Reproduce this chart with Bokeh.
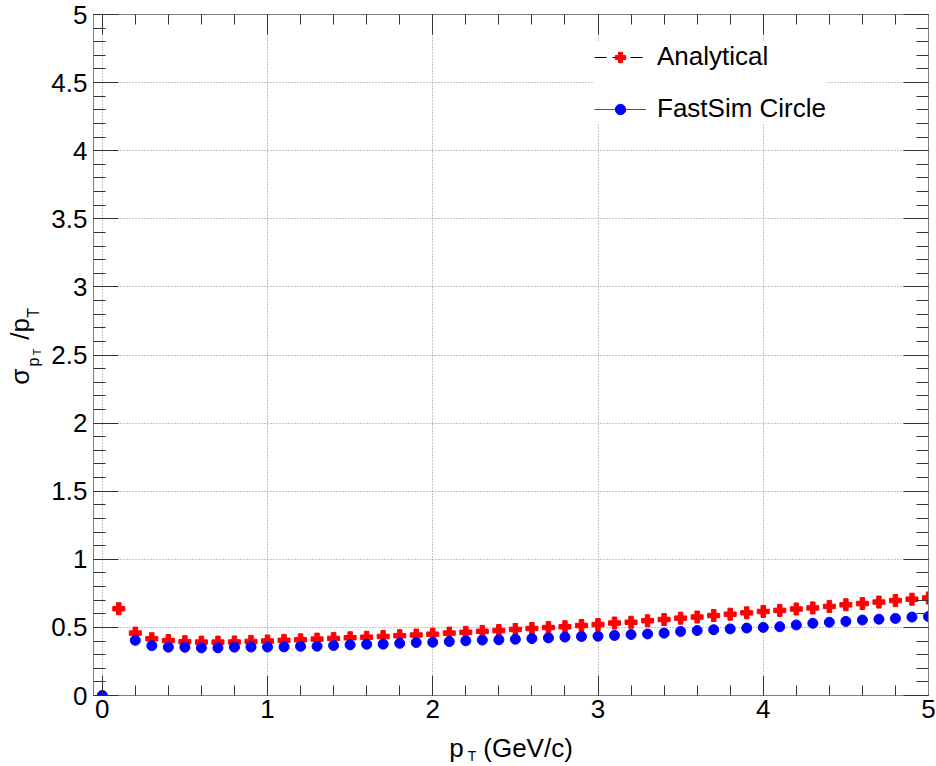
import numpy as np
from bokeh.plotting import figure
from bokeh.models import (Range1d, LinearAxis, SingleIntervalTicker, FixedTicker,
                          NumeralTickFormatter, Legend, LegendItem, Grid)
from bokeh.embed import file_html
from bokeh.resources import INLINE

FONT = "Liberation Sans"
NB = "\u00a0"  # non-collapsing space, used to place title pieces

# ---- data ----
pt_analytical = [0.1, 0.2, 0.3, 0.4, 0.5, 0.6, 0.7, 0.8, 0.9, 1.0,
                 1.1, 1.2, 1.3, 1.4, 1.5, 1.6, 1.7, 1.8, 1.9, 2.0,
                 2.1, 2.2, 2.3, 2.4, 2.5, 2.6, 2.7, 2.8, 2.9, 3.0,
                 3.1, 3.2, 3.3, 3.4, 3.5, 3.6, 3.7, 3.8, 3.9, 4.0,
                 4.1, 4.2, 4.3, 4.4, 4.5, 4.6, 4.7, 4.8, 4.9, 5.0]
sigma_analytical = [0.637, 0.458, 0.417, 0.403, 0.395, 0.392, 0.392, 0.393, 0.397, 0.400,
                    0.405, 0.409, 0.414, 0.419, 0.424, 0.428, 0.433, 0.439, 0.444, 0.450,
                    0.458, 0.464, 0.471, 0.477, 0.485, 0.492, 0.499, 0.505, 0.514, 0.521,
                    0.532, 0.538, 0.549, 0.558, 0.568, 0.576, 0.587, 0.597, 0.607, 0.617,
                    0.625, 0.635, 0.643, 0.654, 0.666, 0.675, 0.686, 0.697, 0.707, 0.716]

pt_fastsim = [0.0, 0.2, 0.3, 0.4, 0.5, 0.6, 0.7, 0.8, 0.9, 1.0,
              1.1, 1.2, 1.3, 1.4, 1.5, 1.6, 1.7, 1.8, 1.9, 2.0,
              2.1, 2.2, 2.3, 2.4, 2.5, 2.6, 2.7, 2.8, 2.9, 3.0,
              3.1, 3.2, 3.3, 3.4, 3.5, 3.6, 3.7, 3.8, 3.9, 4.0,
              4.1, 4.2, 4.3, 4.4, 4.5, 4.6, 4.7, 4.8, 4.9, 5.0]
sigma_fastsim = [0.000, 0.405, 0.366, 0.355, 0.354, 0.350, 0.350, 0.355, 0.356, 0.356,
                 0.357, 0.361, 0.362, 0.367, 0.372, 0.376, 0.377, 0.383, 0.389, 0.391,
                 0.396, 0.402, 0.407, 0.409, 0.413, 0.418, 0.423, 0.429, 0.433, 0.435,
                 0.441, 0.448, 0.452, 0.458, 0.470, 0.477, 0.483, 0.489, 0.495, 0.500,
                 0.505, 0.518, 0.530, 0.538, 0.544, 0.554, 0.560, 0.566, 0.576, 0.580]

series_labels = ["Analytical", "FastSim Circle"]

X_MIN, X_MAX = -0.053, 5.0
Y_MIN, Y_MAX = 0.0, 5.0

p = figure(width=936, height=766, output_backend="svg", toolbar_location=None,
           x_range=Range1d(X_MIN, X_MAX), y_range=Range1d(Y_MIN, Y_MAX),
           x_axis_type=None, y_axis_type=None,
           min_border_left=93, min_border_right=8, min_border_top=14, min_border_bottom=70)
p.background_fill_color = "white"
p.border_fill_color = "white"
p.outline_line_color = "#808080"


def x_ticker():
    return SingleIntervalTicker(interval=1, num_minor_ticks=5)


def y_ticker():
    return SingleIntervalTicker(interval=0.5, num_minor_ticks=5)


def make_axis(ticker, show_labels, tick_in, minor_in, standoff):
    ax = LinearAxis(ticker=ticker, formatter=NumeralTickFormatter(format="0.[0]"))
    ax.major_tick_in = tick_in
    ax.major_tick_out = 0
    ax.minor_tick_in = minor_in
    ax.minor_tick_out = 0
    ax.axis_line_color = "#808080"
    ax.major_tick_line_color = "#333333"
    ax.minor_tick_line_color = "#333333"
    if show_labels:
        ax.major_label_text_font = FONT
        ax.major_label_text_font_size = "26px"
        ax.major_label_text_color = "black"
        ax.major_label_standoff = standoff
    else:
        ax.major_label_text_font_size = "0px"
        ax.major_label_text_alpha = 0
        ax.major_label_standoff = 0
    return ax


def set_title(ax, text, size, standoff):
    ax.axis_label = text
    ax.axis_label_text_font = FONT
    ax.axis_label_text_font_size = size
    ax.axis_label_text_font_style = "normal"
    ax.axis_label_text_color = "black"
    ax.axis_label_standoff = standoff


def title_axis(text, size, standoff):
    """An axis with no line and no ticks, carrying one piece of an axis title."""
    ax = LinearAxis(ticker=FixedTicker(ticks=[]))
    ax.axis_line_color = None
    ax.major_tick_line_color = None
    ax.minor_tick_line_color = None
    ax.major_tick_out = 0
    ax.major_tick_in = 0
    ax.minor_tick_out = 0
    ax.minor_tick_in = 0
    ax.major_label_text_font_size = "0px"
    ax.major_label_standoff = 0
    set_title(ax, text, size, standoff)
    return ax


# bottom: ticks + "p  (GeV/c)" ; then the subscript T
xb = make_axis(x_ticker(), True, 20, 10, 4)
set_title(xb, "p" + NB + NB + "\u2009(GeV/c)", "26px", 12)
p.add_layout(xb, "below")
p.add_layout(title_axis("T" + NB * 20, "14px", -18), "below")

# left: ticks + tiny T ; subscripts p ... T ; main "sigma   /p"
yl = make_axis(y_ticker(), True, 25, 12, 6)
set_title(yl, NB + NB + "T", "11px", 5)
p.add_layout(yl, "left")
p.add_layout(title_axis(NB * 8 + "p" + NB * 9 + "T", "16px", -13), "left")
p.add_layout(title_axis(NB + "\u03c3" + NB * 4 + "/p", "26px", -13), "left")

p.add_layout(make_axis(x_ticker(), False, 20, 10, 0), "above")
p.add_layout(make_axis(y_ticker(), False, 25, 12, 0), "right")

gx = Grid(dimension=0, ticker=x_ticker(), bounds=(X_MIN, X_MAX))
gy = Grid(dimension=1, ticker=y_ticker(), bounds=(Y_MIN, Y_MAX))
for g in (gx, gy):
    g.grid_line_color = "#8a8a8a"
    g.grid_line_dash = "1 2"
    g.grid_line_width = 1
    p.add_layout(g)

r_a = p.scatter(pt_analytical, sigma_analytical, marker="plus", size=12,
                fill_color="red", line_color="red")
r_f = p.scatter(pt_fastsim, sigma_fastsim, marker="circle", size=10,
                fill_color="blue", line_color="blue")

# line styles shown in the legend only (a single NaN point draws nothing in the plot)
nan_pt = np.array([np.nan])
l_a = p.line(x=nan_pt, y=nan_pt, line_color="black", line_width=1, line_dash="12 6")
l_f = p.line(x=nan_pt, y=nan_pt, line_color="#555555", line_width=1)

legend = Legend(items=[LegendItem(label=series_labels[0], renderers=[l_a, r_a]),
                       LegendItem(label=series_labels[1], renderers=[l_f, r_f])],
                location=(501, 571))
legend.label_text_font = FONT
legend.label_text_font_size = "26px"
legend.label_text_color = "black"
legend.label_text_baseline = "middle"
legend.background_fill_color = "white"
legend.background_fill_alpha = 1.0
legend.border_line_color = None
legend.margin = 0
legend.padding = 12
legend.spacing = 21
legend.glyph_width = 52
legend.glyph_height = 26
legend.label_height = 26
legend.label_standoff = 11
p.add_layout(legend)

open("out.html", "w").write(file_html(p, INLINE))
